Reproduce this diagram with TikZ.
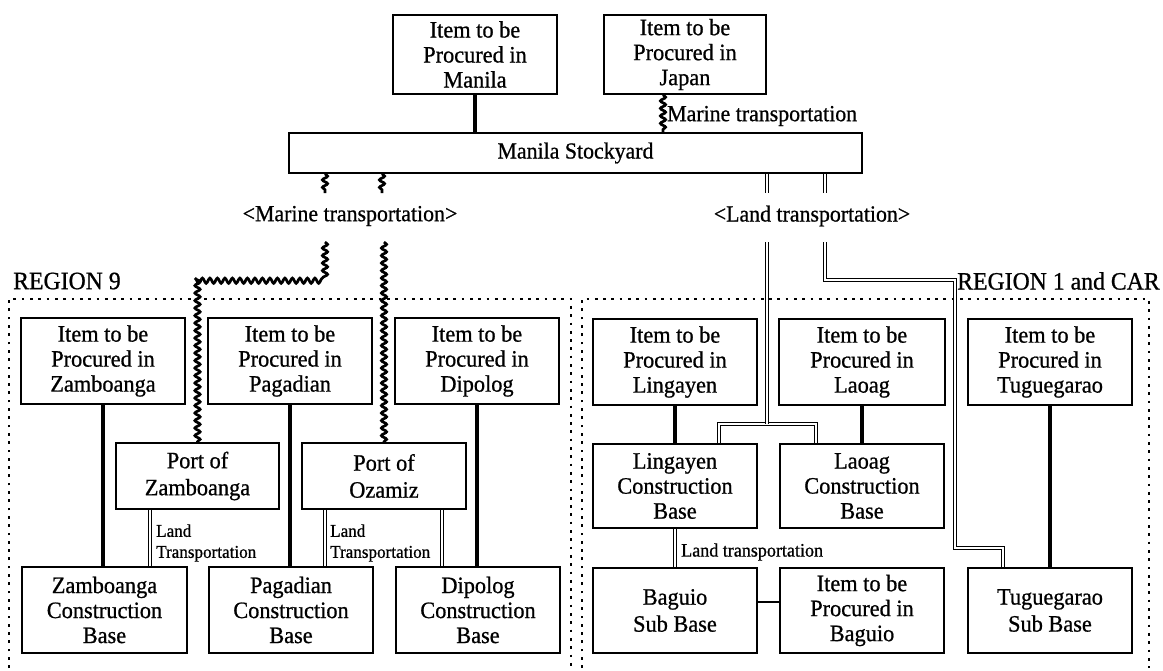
\documentclass[tikz,border=0pt]{standalone}
\usepackage{fontspec}
\setmainfont{Liberation Serif}[FakeBold=0.8, FakeStretch=0.95]
\usetikzlibrary{decorations.pathmorphing}

\tikzset{
  box/.style={draw, line width=1.6pt, minimum width=164pt, inner sep=0pt,
    align=center, font=\fontsize{23.5}{25}\selectfont},
  twoline/.style={box, font=\fontsize{23.5}{27}\selectfont},
  solidc/.style={line width=3.3pt},
  thinc/.style={line width=2pt},
  wavy/.style={line width=2.7pt, decorate,
    decoration={snake, amplitude=2.6pt, segment length=7.5pt}},
  dbl/.style={double, double distance=2.6pt, line width=1.1pt},
  region/.style={line width=2.7pt, dash pattern=on 2.7pt off 5.6pt},
  lbl/.style={inner sep=0pt, font=\fontsize{23}{25}\selectfont},
  slbl/.style={inner sep=0pt, align=left, font=\fontsize{18}{21}\selectfont},
  rlbl/.style={inner sep=0pt, font=\fontsize{25}{27}\selectfont},
}

\begin{document}
\begin{tikzpicture}[x=1pt, y=-1pt]
\useasboundingbox (0,0) rectangle (1163,670);

% regional frames
\draw[region] (9,668) -- (9,299) -- (571,299) -- (571,668);
\draw[region] (582,668) -- (582,299) -- (1149,299) -- (1149,668);
\node[rlbl, anchor=west] (r9) at (13,281) {REGION 9};
\node[rlbl, anchor=west] (r1) at (957,281) {REGION 1 and CAR};

% top level
\node[box, minimum height=79pt] (manila) at (475,54.5) {Item to be\\Procured in\\Manila};
\node[box, minimum height=79pt, minimum width=162pt] (japan) at (685,54.5) {Item to be\\Procured in\\Japan};
\node[box, minimum width=573pt, minimum height=40pt, font=\fontsize{23}{25}\selectfont] (stock) at (575.5,153) {Manila Stockyard};

% region 9 boxes
\node[box, minimum height=86pt] (zitem) at (103,361) {Item to be\\Procured in\\Zamboanga};
\node[box, minimum height=86pt] (pitem) at (290,361) {Item to be\\Procured in\\Pagadian};
\node[box, minimum height=86pt] (ditem) at (477,361) {Item to be\\Procured in\\Dipolog};
\node[twoline, minimum height=66pt, minimum width=163pt] (zport) at (197.5,476) {Port of\\Zamboanga};
\node[twoline, minimum height=66pt] (oport) at (384,476) {Port of\\Ozamiz};
\node[box, minimum height=86pt, minimum width=165pt] (zbase) at (104.5,610) {Zamboanga\\Construction\\Base};
\node[box, minimum height=86pt] (pbase) at (291,610) {Pagadian\\Construction\\Base};
\node[box, minimum height=86pt] (dbase) at (478,610) {Dipolog\\Construction\\Base};

% region 1 and CAR boxes
\node[box, minimum height=86pt] (litem) at (675,362) {Item to be\\Procured in\\Lingayen};
\node[box, minimum height=86pt, minimum width=166pt] (laitem) at (862,362) {Item to be\\Procured in\\Laoag};
\node[box, minimum height=86pt] (titem) at (1050,362) {Item to be\\Procured in\\Tuguegarao};
\node[box, minimum height=84pt] (lbase) at (675,486) {Lingayen\\Construction\\Base};
\node[box, minimum height=84pt] (labase) at (862,486) {Laoag\\Construction\\Base};
\node[twoline, minimum height=85pt] (bsub) at (675,610.5) {Baguio\\Sub Base};
\node[box, minimum height=85pt] (bitem) at (862,610.5) {Item to be\\Procured in\\Baguio};
\node[twoline, minimum height=85pt] (tsub) at (1050,610.5) {Tuguegarao\\Sub Base};

% supply into the stockyard
\coordinate (jx) at (663,0);
\draw[solidc] (manila.south) -- (manila.south |- stock.north);
\draw[wavy] (japan.south -| jx) -- (stock.north -| jx);
\node[lbl, anchor=west] (jlbl) at (667,116) {Marine transportation};

% marine routes
\coordinate (ma) at (325,193);
\coordinate (mb) at (382,193);
\draw[wavy] (stock.south -| ma) -- (ma);
\draw[wavy] (stock.south -| mb) -- (mb);
\node[lbl] (mlbl) at (350,216) {<Marine transportation>};
\coordinate (mc) at (325,242);
\coordinate (md) at (325,277);
\coordinate (me) at (197.5,277);
\coordinate (mf) at (384,242);
\draw[wavy] (mc) -- (md) -- (me) -- (zport.north);
\draw[wavy] (mf) -- (oport.north);

% land routes
\coordinate (la) at (767,193);
\coordinate (lb) at (825,193);
\draw[dbl] (stock.south -| la) -- (la);
\draw[dbl] (stock.south -| lb) -- (lb);
\node[lbl] (llbl) at (812,216) {<Land transportation>};
\coordinate (lt1) at (719,424);
\coordinate (lt2) at (816,424);
\draw[dbl] (lbase.north -| lt1) -- (lt1) -- (lt2) -- (labase.north -| lt2);
\coordinate (lc) at (767,242);
\coordinate (lj) at (767,424);
\draw[dbl] (lc) -- (lj);
\coordinate (le) at (825,242);
\coordinate (lf) at (825,280);
\coordinate (lg) at (955,280);
\coordinate (lh) at (955,548);
\coordinate (li) at (1003,548);
\draw[dbl] (le) -- (lf) -- (lg) -- (lh) -- (li) -- (tsub.north -| li);

% region 9 links
\draw[solidc] (zitem.south) -- (zitem.south |- zbase.north);
\draw[solidc] (pitem.south) -- (pitem.south |- pbase.north);
\draw[solidc] (ditem.south) -- (ditem.south |- dbase.north);
\coordinate (zx) at (150,0);
\coordinate (ox1) at (325,0);
\coordinate (ox2) at (442,0);
\draw[dbl] (zport.south -| zx) -- (zbase.north -| zx);
\draw[dbl] (oport.south -| ox1) -- (pbase.north -| ox1);
\draw[dbl] (oport.south -| ox2) -- (dbase.north -| ox2);
\node[slbl, anchor=west] (zlt) at (156,543) {Land\\Transportation};
\node[slbl, anchor=west] (olt) at (330,543) {Land\\Transportation};

% region 1 and CAR links
\draw[solidc] (litem.south) -- (lbase.north);
\draw[solidc] (laitem.south) -- (labase.north);
\draw[solidc] (titem.south) -- (tsub.north);
\draw[dbl] (lbase.south) -- (bsub.north);
\node[slbl, anchor=west, font=\fontsize{19}{21}\selectfont] (blt) at (681,552) {Land transportation};
\coordinate (ba) at ([yshift=8.5pt]bsub.east);
\draw[thinc] (ba) -- (ba -| bitem.west);
\end{tikzpicture}
\end{document}
